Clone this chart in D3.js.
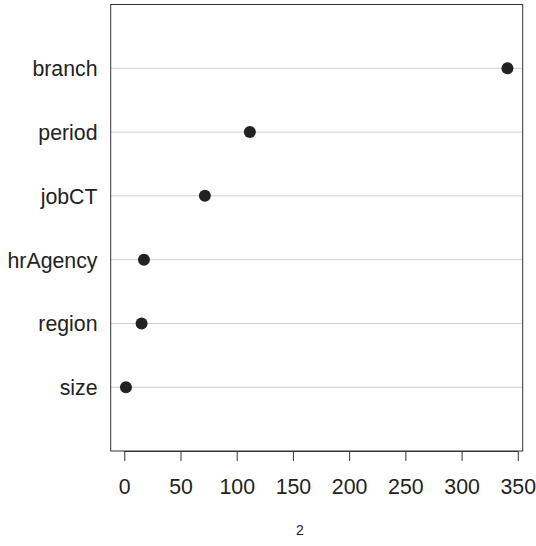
<!DOCTYPE html>
<html>
<head>
<meta charset="utf-8">
<script src="https://cdn.jsdelivr.net/npm/d3@7"></script>
<style>
  html, body { margin: 0; padding: 0; background: #fff; }
  svg { display: block; }
  text { font-family: "Liberation Sans", Arial, sans-serif; fill: #222; }
</style>
</head>
<body>
<svg id="chart" width="536" height="546"></svg>
<script>
// Variable importance values, listed bottom to top
const categories = ["size", "region", "hrAgency", "jobCT", "period", "branch"];
const values = [1.5, 15.4, 17.5, 71.7, 111.7, 340.8];
const xTicks = [0, 50, 100, 150, 200, 250, 300, 350];
const pageLabel = "2";

const svg = d3.select("#chart");
const box = { left: 110.7, right: 522.7, top: 4.5, bottom: 451 };

// Extend the value range by 4% on each side
const lo = d3.min(values), hi = d3.max(values);
const pad = (hi - lo) * 0.04;
const x = d3.scaleLinear().domain([lo - pad, hi + pad]).range([box.left, box.right]);
const y = d3.scaleLinear().domain([0, categories.length + 1]).range([box.bottom, box.top]);

const rows = categories.map((c, i) => ({ name: c, value: values[i], pos: i + 1 }));

// Horizontal guide lines
svg.append("g").selectAll("line").data(rows).join("line")
  .attr("x1", box.left).attr("x2", box.right)
  .attr("y1", d => y(d.pos)).attr("y2", d => y(d.pos))
  .attr("stroke", "#cfcfcf").attr("stroke-width", 1);

// Category labels
svg.append("g").selectAll("text").data(rows).join("text")
  .attr("x", 97.5).attr("y", d => y(d.pos) + 8)
  .attr("text-anchor", "end")
  .attr("font-size", 21.3)
  .text(d => d.name);

// Points
svg.append("g").selectAll("circle").data(rows).join("circle")
  .attr("cx", d => x(d.value)).attr("cy", d => y(d.pos))
  .attr("r", 6)
  .attr("fill", "#222");

// Plot frame
svg.append("rect")
  .attr("x", box.left).attr("y", box.top)
  .attr("width", box.right - box.left).attr("height", box.bottom - box.top)
  .attr("fill", "none").attr("stroke", "#333").attr("stroke-width", 1);

// Bottom axis
const axis = d3.axisBottom(x).tickValues(xTicks).tickSize(10).tickPadding(0);
const gx = svg.append("g").attr("transform", `translate(0,${box.bottom})`).call(axis);
gx.select(".domain")
  .attr("d", `M${x(xTicks[0])},0.5H${x(xTicks[xTicks.length - 1])}`)
  .attr("stroke", "#333");
gx.selectAll(".tick line").attr("stroke", "#333");
gx.selectAll(".tick text")
  .attr("y", 43)
  .attr("dy", null)
  .attr("font-size", 21.3)
  .attr("font-family", "Liberation Sans, Arial, sans-serif")
  .attr("fill", "#222");

// Page number
svg.append("text")
  .attr("x", 300).attr("y", 535)
  .attr("text-anchor", "middle")
  .attr("font-size", 14)
  .text(pageLabel);
</script>
</body>
</html>
